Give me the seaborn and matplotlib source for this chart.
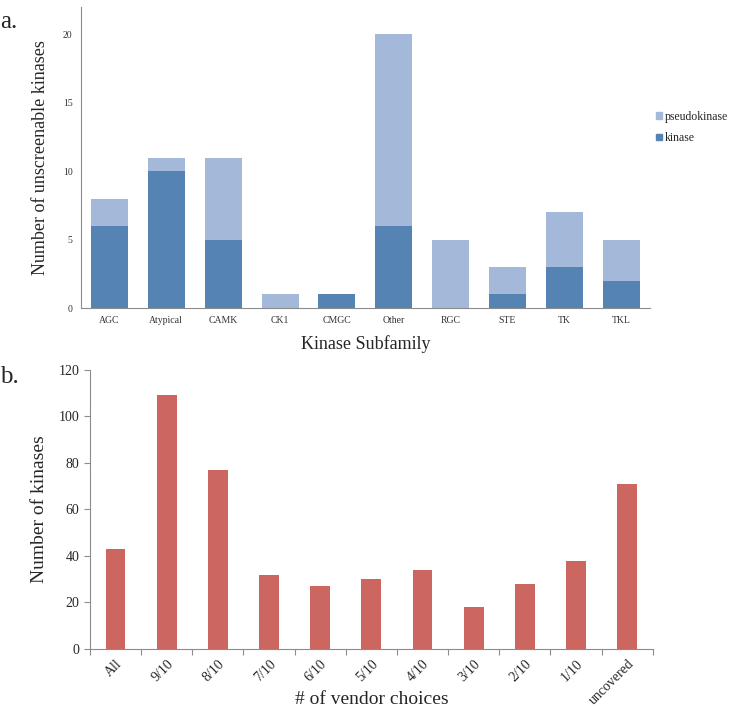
import numpy as np
import pandas as pd
import matplotlib
matplotlib.use("Agg")
import matplotlib.pyplot as plt
import seaborn as sns
from matplotlib.patches import Patch

sns.set_theme(style="white")
plt.rcParams['font.family'] = ['Liberation Serif', 'DejaVu Serif']

# Panel a data
subfamilies = ["AGC", "Atypical", "CAMK", "CK1", "CMGC", "Other", "RGC", "STE", "TK", "TKL"]
kinase = [6, 10, 5, 0, 1, 6, 0, 1, 3, 2]
pseudokinase = [2, 1, 6, 1, 0, 14, 5, 2, 4, 3]

# Panel b data
vendor_choices = ["All", "9/10", "8/10", "7/10", "6/10", "5/10", "4/10", "3/10", "2/10", "1/10", "uncovered"]
n_kinases = [43, 109, 77, 32, 27, 30, 34, 18, 28, 38, 71]

c_kin = "#5584b4"
c_pseudo = "#a4b8d9"
c_red = "#cc6661"
gray = "#8c8c8c"

fig = plt.figure(figsize=(7.31, 7.10), dpi=100)

# ---- Panel a ----
ax1 = fig.add_axes([0.1108, 0.566, 0.778, 0.424])
dfa = pd.DataFrame({"sub": subfamilies, "kinase": kinase, "pseudo": pseudokinase})
dfa["total"] = dfa["kinase"] + dfa["pseudo"]
sns.barplot(data=dfa, x="sub", y="total", color=c_pseudo, saturation=1, width=0.65,
            linewidth=0, ax=ax1)
sns.barplot(data=dfa, x="sub", y="kinase", color=c_kin, saturation=1, width=0.65,
            linewidth=0, ax=ax1)
ax1.set_ylim(0, 22)
ax1.set_xlim(-0.5, 9.5)
ax1.set_yticks([0, 5, 10, 15, 20])
ax1.tick_params(axis='both', length=0, labelsize=7, colors="#333333", pad=6)
ax1.set_xlabel("Kinase Subfamily", fontsize=13, labelpad=7)
ax1.set_ylabel("Number of unscreenable kinases", fontsize=13, labelpad=10)
for s in ["top", "right"]:
    ax1.spines[s].set_visible(False)
for s in ["left", "bottom"]:
    ax1.spines[s].set_color(gray)
    ax1.spines[s].set_linewidth(0.8)
handles = [Patch(color=c_pseudo, label="pseudokinase"), Patch(color=c_kin, label="kinase")]
ax1.legend(handles=handles, loc="center left", bbox_to_anchor=(0.998, 0.6), frameon=False,
           fontsize=8.5, handlelength=0.5, handleheight=0.5, handletextpad=0.25,
           labelspacing=0.8, borderaxespad=0.2)
fig.text(0.0, 0.985, "a.", fontsize=18, va="top", ha="left")

# ---- Panel b ----
ax2 = fig.add_axes([0.123, 0.086, 0.770, 0.393])
dfb = pd.DataFrame({"choice": vendor_choices, "n": n_kinases})
sns.barplot(data=dfb, x="choice", y="n", color=c_red, saturation=1, width=0.39,
            linewidth=0, ax=ax2)
ax2.set_ylim(0, 120)
ax2.set_xlim(-0.5, 10.5)
ax2.set_yticks(range(0, 121, 20))
ax2.set_xticks(np.arange(-0.5, 11, 1), minor=True)
ax2.tick_params(axis='x', which='major', length=0, labelsize=10, pad=6)
ax2.tick_params(axis='x', which='minor', length=4, color=gray, width=0.8, bottom=True)
ax2.tick_params(axis='y', length=4, color=gray, width=0.8, labelsize=10, left=True)
for lab in ax2.get_xticklabels():
    lab.set_rotation(45)
    lab.set_ha("right")
    lab.set_rotation_mode("anchor")
ax2.set_xlabel("# of vendor choices", fontsize=14)
ax2.xaxis.set_label_coords(0.5, -0.152)
ax2.set_ylabel("Number of kinases", fontsize=14, labelpad=8)
for s in ["top", "right"]:
    ax2.spines[s].set_visible(False)
for s in ["left", "bottom"]:
    ax2.spines[s].set_color(gray)
    ax2.spines[s].set_linewidth(0.8)
fig.text(0.0, 0.485, "b.", fontsize=18, va="top", ha="left")

fig.savefig("out.png", dpi=100)
